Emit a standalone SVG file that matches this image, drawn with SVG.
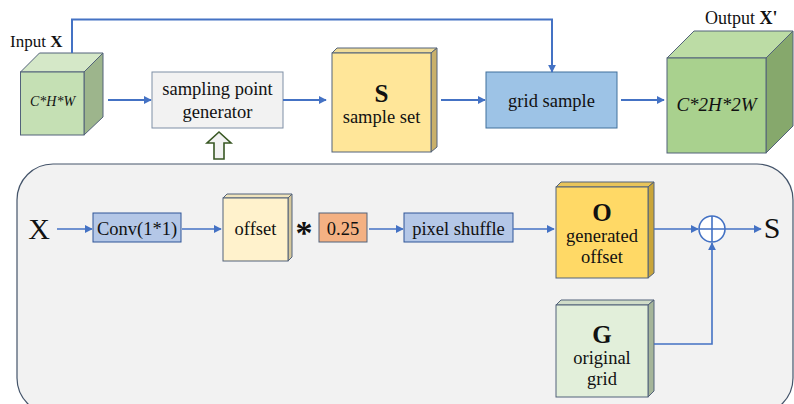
<svg xmlns="http://www.w3.org/2000/svg" width="794" height="404" viewBox="0 0 794 404">
  <defs>
    <marker id="arr" viewBox="0 0 10 10" refX="9" refY="5" markerWidth="8" markerHeight="8" markerUnits="userSpaceOnUse" orient="auto">
      <path d="M0,0 L10,5 L0,10 z" fill="#4472c4"/>
    </marker>
    <style>
      text { fill: #111; text-anchor: middle; }
      .lbl { font-size: 18.5px; }
      .big { font-size: 25px; font-weight: bold; }
      .it { font-style: italic; }
      .edge { fill: none; stroke: #4472c4; stroke-width: 2; }
      .edge2 { fill: none; stroke: #4472c4; stroke-width: 1.6; }
      .box { stroke: #52627a; stroke-width: 1; }
    </style>
  </defs>

  <rect width="794" height="404" fill="#ffffff"/>

  <g font-family="'Liberation Serif', 'Times New Roman', serif">

  <!-- lower panel: sampling point generator details -->
  <rect id="panel" x="17" y="164" width="776" height="250" rx="36" ry="36" fill="#f2f2f2" stroke="#44546a" stroke-width="1.2"/>

  <!-- input tensor -->
  <g id="input">
    <polygon points="20.5,72 39.5,53 103,53 84,72" fill="#d5e8c8" class="box"/>
    <polygon points="84,72 103,53 103,117 84,135" fill="#9db58c" class="box"/>
    <rect x="20.5" y="72" width="63.5" height="63" fill="#c5e0b4" class="box"/>
    <text class="it" x="52.5" y="106" font-size="14">C*H*W</text>
    <text x="10" y="47" font-size="17" style="text-anchor:start">Input <tspan font-weight="bold">X</tspan></text>
  </g>

  <g id="sampler">
    <rect x="152" y="72" width="131" height="56" fill="#f2f2f2" stroke="#7f8fa6" stroke-width="1"/>
    <text class="lbl" x="217.5" y="95">sampling point</text>
    <text class="lbl" x="217.5" y="118">generator</text>
  </g>

  <!-- hollow arrow from the panel into the generator -->
  <g id="up-arrow">
    <polygon points="219,132 231,143 224,143 224,159 214,159 214,143 207,143" fill="#f2f2f2" stroke="#385723" stroke-width="1.6" stroke-linejoin="miter"/>
  </g>

  <g id="sample-set">
    <polygon points="332,53 337,48 437,48 431,53" fill="#f0dc98" class="box"/>
    <polygon points="431,53 437,48 437,147 431,152" fill="#c9b06a" class="box"/>
    <rect x="332" y="53" width="99" height="99" fill="#ffe699" class="box"/>
    <text class="big" x="381.5" y="102">S</text>
    <text class="lbl" x="381.5" y="123">sample set</text>
  </g>

  <g id="grid-sample">
    <rect x="486" y="72" width="131" height="56" fill="#9dc3e6" stroke="#41719c" stroke-width="1"/>
    <text class="lbl" x="551.5" y="107">grid sample</text>
  </g>

  <g id="output">
    <polygon points="667,58 694,31 793,31 766,58" fill="#bcdca5" class="box"/>
    <polygon points="766,58 793,31 793,126 766,153" fill="#86a86c" class="box"/>
    <rect x="667" y="58" width="99" height="95" fill="#a9d18e" class="box"/>
    <text class="it" x="716.5" y="111" font-size="19">C*2H*2W</text>
    <text x="705" y="24" font-size="18" style="text-anchor:start">Output <tspan font-weight="bold">X'</tspan></text>
  </g>

  <!-- lower panel nodes -->
  <g id="x-in">
    <text x="39" y="239" font-size="30">X</text>
  </g>

  <g id="conv">
    <rect x="93" y="213" width="88" height="29" fill="#b4c7e7" stroke="#2f5597" stroke-width="1"/>
    <text class="lbl" x="137" y="234.5">Conv(1*1)</text>
  </g>

  <g id="offset">
    <polygon points="223,198 227,194 292,194 288,198" fill="#f0e4bc" class="box"/>
    <polygon points="288,198 292,194 292,257 288,261" fill="#d6c89c" class="box"/>
    <rect x="223" y="198" width="65" height="63" fill="#fff2cc" class="box"/>
    <text class="lbl" x="255.5" y="235">offset</text>
  </g>

  <g id="times">
    <text x="304" y="243.5" font-size="34" font-weight="bold">*</text>
  </g>

  <g id="scale">
    <rect x="319" y="213" width="48" height="29" fill="#f4b183" stroke="#52627a" stroke-width="1"/>
    <text class="lbl" x="343" y="234.5">0.25</text>
  </g>

  <g id="pixel-shuffle">
    <rect x="404" y="213" width="109" height="29" fill="#b4c7e7" stroke="#2f5597" stroke-width="1"/>
    <text class="lbl" x="458.5" y="234.5">pixel shuffle</text>
  </g>

  <g id="generated-offset">
    <polygon points="556,187 561,182 654,182 648,187" fill="#e8c45a" class="box"/>
    <polygon points="648,187 654,182 654,273 648,278" fill="#c9a53a" class="box"/>
    <rect x="556" y="187" width="92" height="91" fill="#ffd966" class="box"/>
    <text class="big" x="602" y="221">O</text>
    <text class="lbl" x="602" y="242">generated</text>
    <text class="lbl" x="602" y="263">offset</text>
  </g>

  <g id="original-grid">
    <polygon points="556,305 561,300 654,300 648,305" fill="#d0dcc8" class="box"/>
    <polygon points="648,305 654,300 654,391 648,397" fill="#a5b59a" class="box"/>
    <rect x="556" y="305" width="92" height="92" fill="#e2efda" class="box"/>
    <text class="big" x="602" y="343">G</text>
    <text class="lbl" x="602" y="364">original</text>
    <text class="lbl" x="602" y="385">grid</text>
  </g>

  <g id="sum">
    <circle cx="712" cy="229" r="13" fill="#ffffff" stroke="#4472c4" stroke-width="1.6"/>
    <path d="M699,229 H725 M712,216 V242" stroke="#4472c4" stroke-width="1.6"/>
  </g>

  <g id="s-out">
    <text x="772" y="238" font-size="30">S</text>
  </g>

  </g>

  <!-- connectors -->
  <g id="connectors">
    <path class="edge" d="M72,53 V19.5 H552 V72" marker-end="url(#arr)"/>
    <path class="edge" d="M108,100 H151" marker-end="url(#arr)"/>
    <path class="edge" d="M283,100 H326" marker-end="url(#arr)"/>
    <path class="edge" d="M441,100 H485" marker-end="url(#arr)"/>
    <path class="edge" d="M621,100 H664" marker-end="url(#arr)"/>

    <path class="edge2" d="M57,229 H92" marker-end="url(#arr)"/>
    <path class="edge2" d="M182,229 H221" marker-end="url(#arr)"/>
    <path class="edge2" d="M369,229 H403" marker-end="url(#arr)"/>
    <path class="edge2" d="M513,229 H554" marker-end="url(#arr)"/>
    <path class="edge2" d="M654,229 H698" marker-end="url(#arr)"/>
    <path class="edge2" d="M725,229 H761" marker-end="url(#arr)"/>
    <path class="edge2" d="M654,344 H712 V243" marker-end="url(#arr)"/>
  </g>
</svg>
